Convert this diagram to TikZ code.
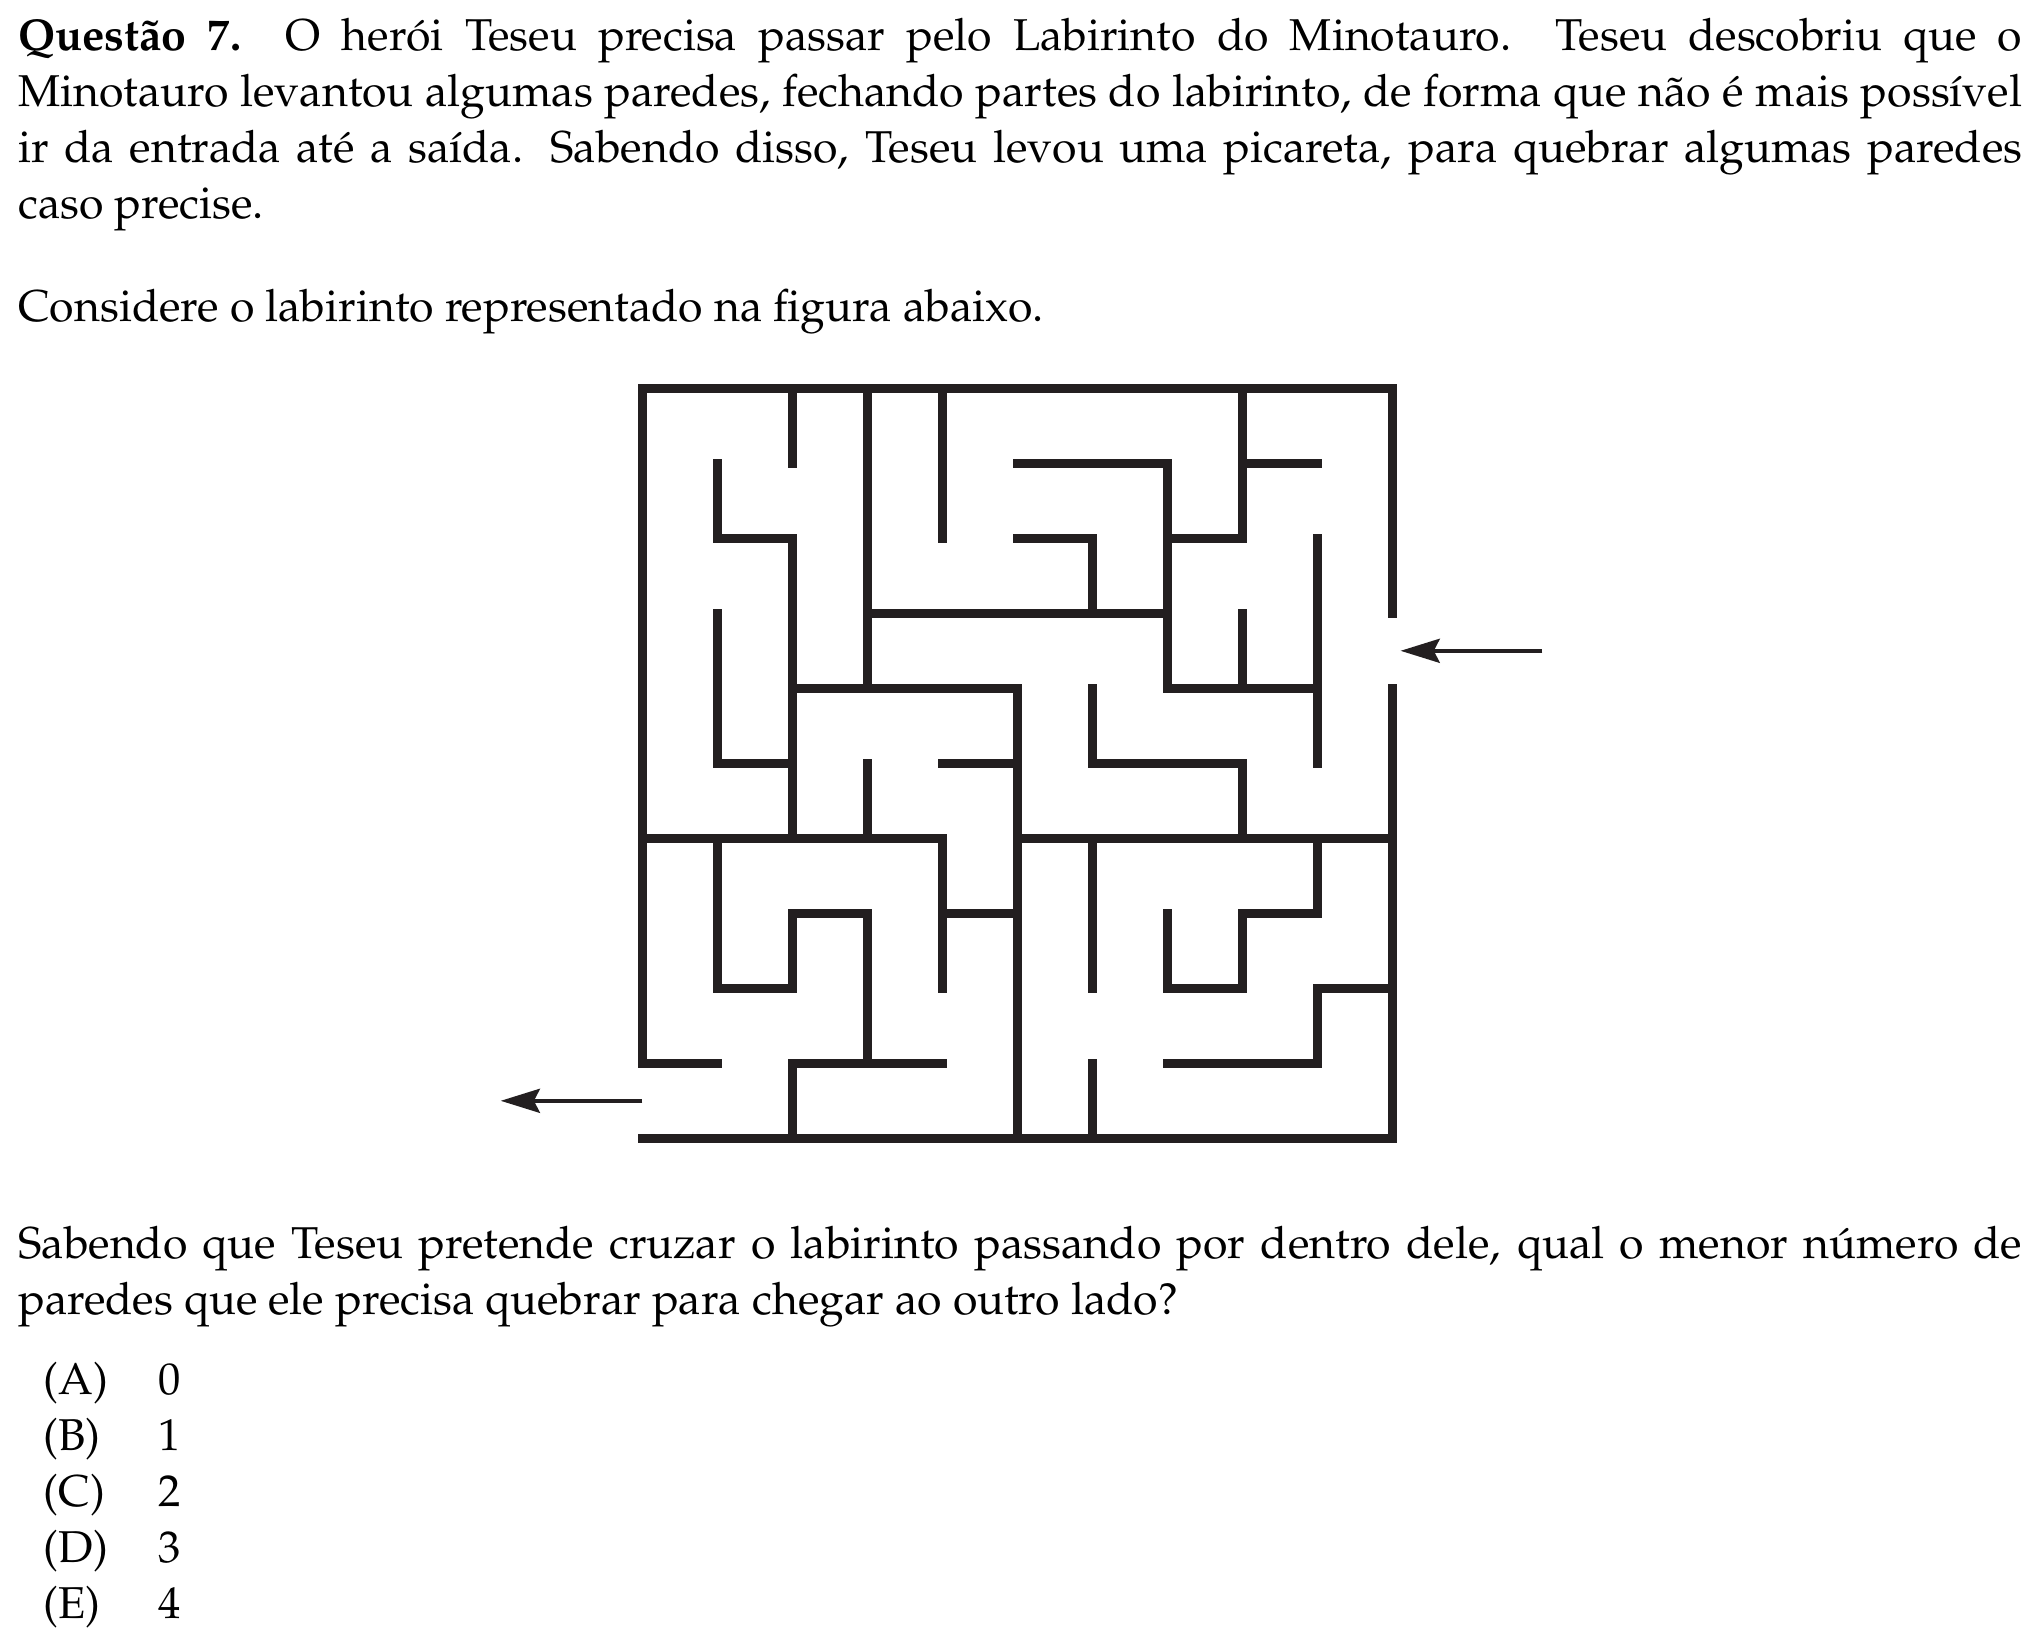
\documentclass[tikz,border=0pt]{standalone}
\usepackage[T1]{fontenc}
\usepackage{mathpazo}
\usepackage{tikz}
\usetikzlibrary{arrows.meta}
\definecolor{wallcol}{RGB}{35,31,32}

\begin{document}
\begin{tikzpicture}[x=18.75pt, y=18.75pt,
  every node/.style={inner sep=0pt, font=\fontsize{11.15}{14}\selectfont},
  wall/.style={line width=2.25pt, draw=wallcol, line cap=rect, line join=miter},
  arrowline/.style={line width=1pt, draw=wallcol, -{Stealth[length=9.8pt,width=6pt,inset=1.5pt]}},
  para/.style={anchor=north west, text width=501pt, align=justify}]
  \useasboundingbox (-160.575pt,-123.425pt) rectangle (349.675pt,284.575pt);
  % enunciado
  \node[para] (enunciado) at (-156.2pt,281.875pt) {\strut\textbf{Questão 7.} O herói Teseu precisa passar pelo Labirinto do Minotauro. Teseu descobriu que o\linebreak Minotauro levantou algumas paredes, fechando partes do labirinto, de forma que não é mais possível\linebreak ir da entrada até a saída. Sabendo disso, Teseu levou uma picareta, para quebrar algumas paredes\linebreak caso precise.};
  \node[anchor=base west] (considere) at (-156.2pt,204.3pt) {Considere o labirinto representado na figura abaixo.};
  % bordas do labirinto (entrada e saida abertas)
  \draw[wall] (0,1) -- (0,10) -- (10,10) -- (10,7);
  \draw[wall] (10,6) -- (10,0) -- (0,0);
  % paredes internas
  \draw[wall] (2,10) -- (2,9)
    (3,10) -- (3,6)
    (4,10) -- (4,8)
    (1,9) -- (1,8) -- (2,8) -- (2,4)
    (3,7) -- (7,7)
    (1,7) -- (1,5) -- (2,5)
    (2,6) -- (5,6) -- (5,0)
    (3,5) -- (3,4)
    (4,5) -- (5,5)
    (8,10) -- (8,8) -- (7,8)
    (8,9) -- (9,9)
    (5,9) -- (7,9) -- (7,6) -- (9,6)
    (5,8) -- (6,8) -- (6,7)
    (9,8) -- (9,5)
    (8,7) -- (8,6)
    (6,6) -- (6,5) -- (8,5) -- (8,4)
    (0,4) -- (4,4) -- (4,2)
    (5,4) -- (10,4)
    (1,4) -- (1,2) -- (2,2) -- (2,3) -- (3,3) -- (3,1)
    (0,1) -- (1,1)
    (2,0) -- (2,1) -- (4,1)
    (4,3) -- (5,3)
    (6,4) -- (6,2)
    (9,4) -- (9,3) -- (8,3) -- (8,2) -- (7,2) -- (7,3)
    (10,2) -- (9,2) -- (9,1) -- (7,1)
    (6,1) -- (6,0);
  % setas
  \coordinate (entradaA) at (12,6.5);
  \coordinate (entradaB) at (10.11,6.5);
  \coordinate (saidaA) at (0,0.5);
  \coordinate (saidaB) at (-1.888,0.5);
  \draw[arrowline] (entradaA) -- (entradaB);
  \draw[arrowline] (saidaA) -- (saidaB);
  % pergunta e alternativas
  \node[para] (pergunta) at (-156.2pt,-20.125pt) {\strut Sabendo que Teseu pretende cruzar o labirinto passando por dentro dele, qual o menor número de\linebreak paredes que ele precisa quebrar para chegar ao outro lado?};
  \foreach \letra/\valor [count=\k from 0] in {A/0,B/1,C/2,D/3,E/4} {
    \node[anchor=base west] (alt\letra) at (-149.8pt,{-63.925pt-\k*14pt}) {(\letra)};
    \node[anchor=base west] (val\letra) at (-121.1pt,{-63.925pt-\k*14pt}) {\valor};
  }
\end{tikzpicture}
\end{document}
